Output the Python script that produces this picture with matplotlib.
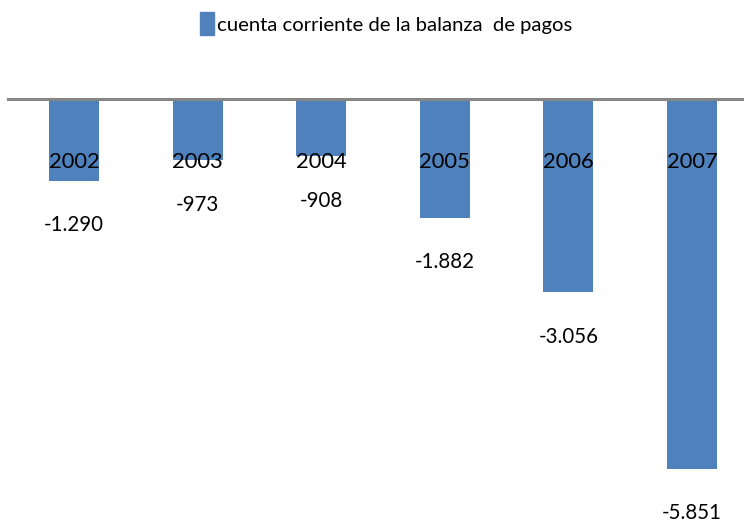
import matplotlib
matplotlib.use("Agg")
import matplotlib.pyplot as plt

years = ["2002", "2003", "2004", "2005", "2006", "2007"]
values = [-1290, -973, -908, -1882, -3056, -5851]
value_labels = ["-1.290", "-973", "-908", "-1.882", "-3.056", "-5.851"]
legend_label = "cuenta corriente de la balanza  de pagos"

plt.rcParams['font.family'] = ['Lato', 'DejaVu Sans']

fig = plt.figure(figsize=(7.44, 5.30), dpi=100)
ax = fig.add_axes([0, 0, 1, 1])
ax.set_axis_off()
x = list(range(len(years)))
ax.bar(x, values, width=0.405, color="#4F81BD", zorder=2)
ax.set_xlim(-0.599, 5.421)
ax.set_ylim(-6820, 1566)
ax.axhline(0, xmin=8/744, xmax=1, color="#868686", lw=2.2, zorder=3)

renderer = fig.canvas.get_renderer()

def fit_size(s, target_px, base=10.0):
    t = fig.text(0, 0, s, fontsize=base)
    w = t.get_window_extent(renderer).width
    t.remove()
    return base * target_px / w

year_fs = fit_size("2002", 51)
val_fs = fit_size("-1.290", 60)
leg_fs = fit_size(legend_label, 356)

for xi, y in zip(x, years):
    ax.text(xi, -997, y, ha="center", va="center", fontsize=year_fs, color="black", zorder=4)
for xi, v, lab in zip(x, values, value_labels):
    ax.annotate(lab, (xi, v), xytext=(0, -32), textcoords="offset points",
                ha="center", va="center", fontsize=val_fs, color="black")

fig.patches.append(plt.Rectangle((200/744, 1 - 35/530), 14/744, 23/530,
                                 transform=fig.transFigure, color="#4F81BD"))
fig.text(217/744, 1 - 25/530, legend_label, ha="left", va="center", fontsize=leg_fs)

fig.savefig("out.png", dpi=100)
